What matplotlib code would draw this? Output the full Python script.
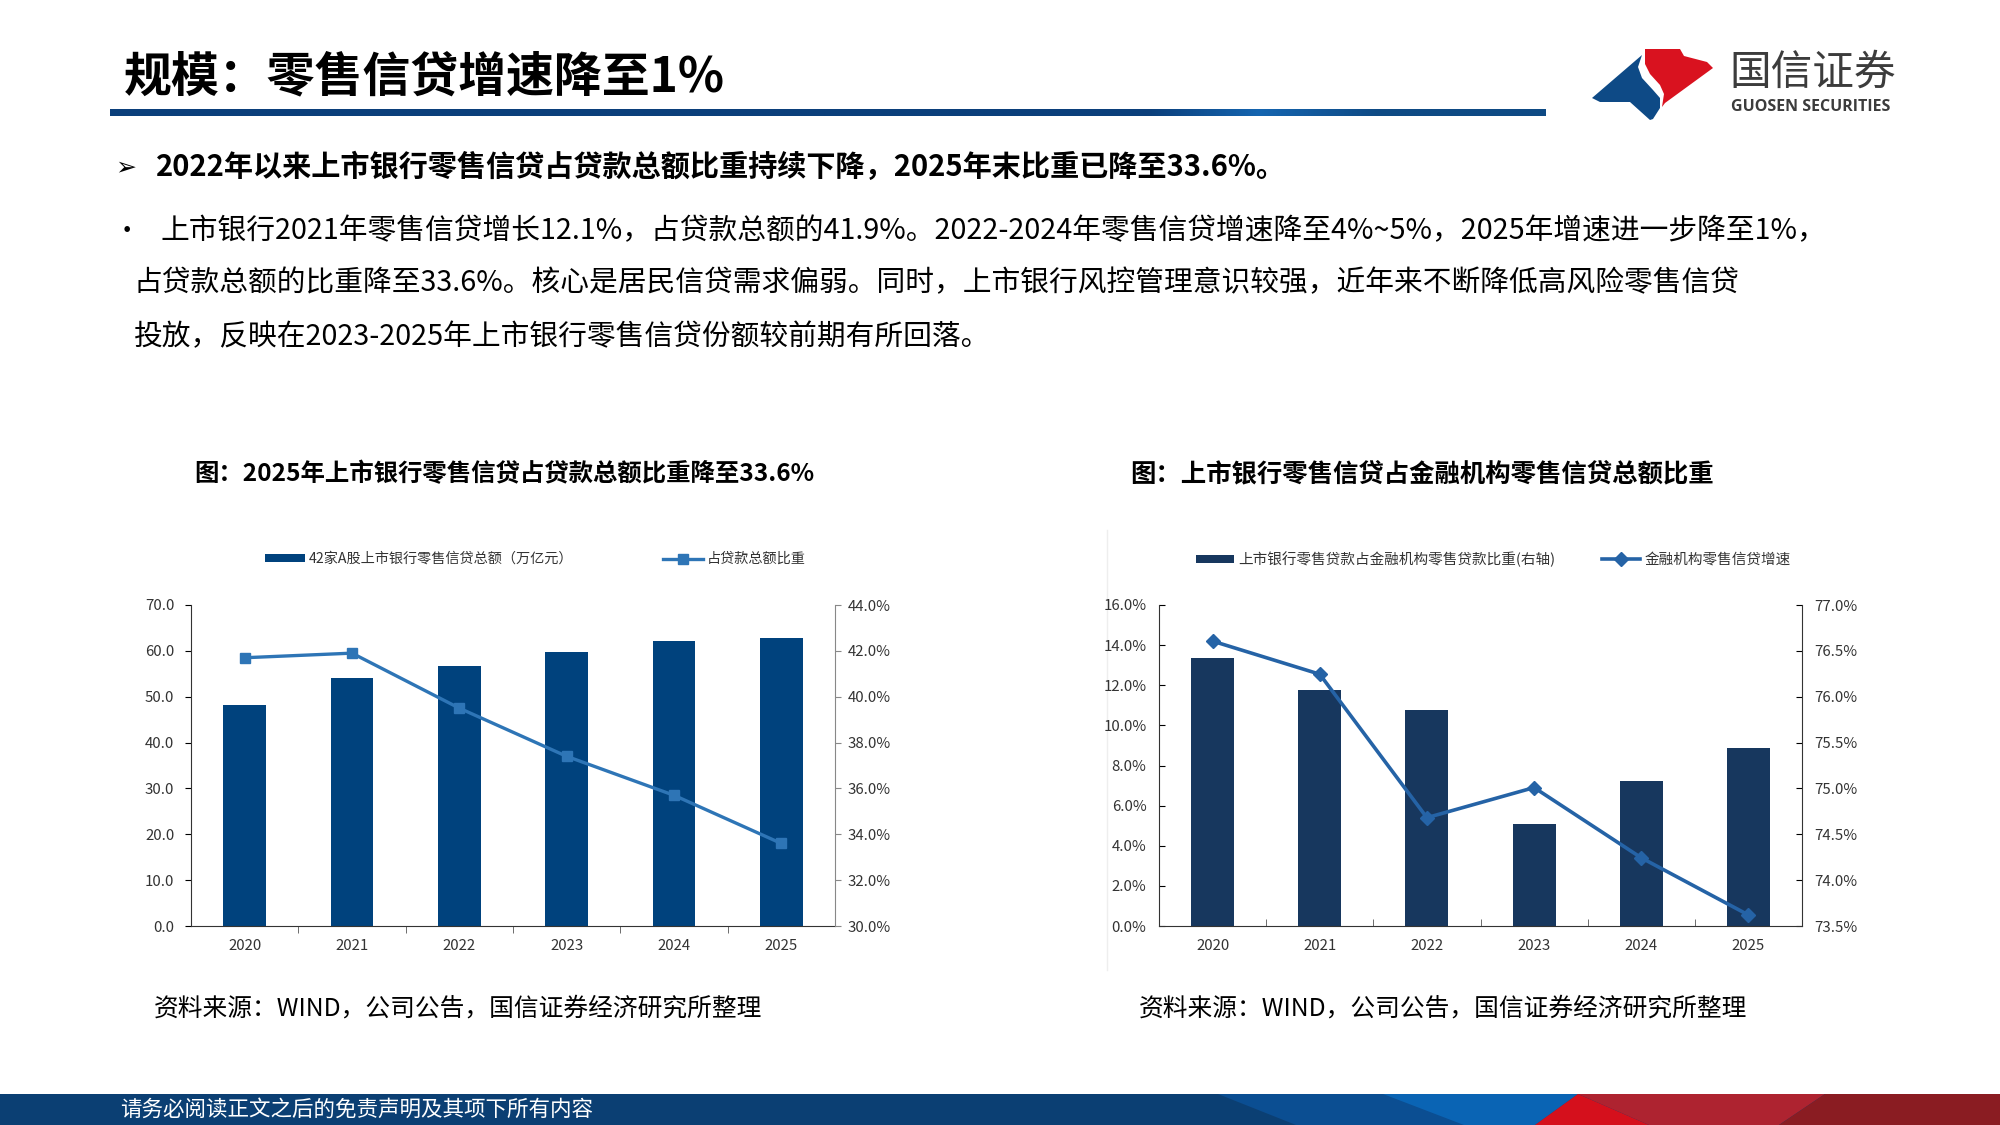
import numpy as np
import matplotlib
matplotlib.use("Agg")
import matplotlib.pyplot as plt
from matplotlib.patches import Polygon
from matplotlib.ticker import FuncFormatter, MultipleLocator

plt.rcParams['font.family'] = ['Noto Sans CJK SC', 'DejaVu Sans']

W, H = 2000, 1125

years = ['2020', '2021', '2022', '2023', '2024', '2025']

# left chart: listed banks retail loans (bars, 万亿元) and share of total loans (line, %)
retail_loans = [48.2, 54.1, 56.7, 59.8, 62.2, 62.9]
loan_share = [41.7, 41.9, 39.5, 37.4, 35.7, 33.6]

# right chart: listed banks share of FI retail loans (bars, right axis, %)
# and FI retail credit growth (line, left axis, %)
listed_share = [76.42, 76.07, 75.86, 74.61, 75.08, 75.44]
fi_growth = [14.2, 12.55, 5.4, 6.9, 3.4, 0.55]

page_title = '规模：零售信贷增速降至1%'
point_text = '2022年以来上市银行零售信贷占贷款总额比重持续下降，2025年末比重已降至33.6%。'
body_lines = [
    '上市银行2021年零售信贷增长12.1%，占贷款总额的41.9%。2022-2024年零售信贷增速降至4%~5%，2025年增速进一步降至1%，',
    '占贷款总额的比重降至33.6%。核心是居民信贷需求偏弱。同时，上市银行风控管理意识较强，近年来不断降低高风险零售信贷',
    '投放，反映在2023-2025年上市银行零售信贷份额较前期有所回落。',
]
chart1_title = '图：2025年上市银行零售信贷占贷款总额比重降至33.6%'
chart2_title = '图：上市银行零售信贷占金融机构零售信贷总额比重'
chart1_labels = ['42家A股上市银行零售信贷总额（万亿元）', '占贷款总额比重']
chart2_labels = ['上市银行零售贷款占金融机构零售贷款比重(右轴)', '金融机构零售信贷增速']
source_text = '资料来源：WIND，公司公告，国信证券经济研究所整理'
footer_text = '请务必阅读正文之后的免责声明及其项下所有内容'

fig = plt.figure(figsize=(20, 11.25), dpi=100)
fig.patch.set_facecolor('white')

# page overlay in pixel coordinates (y down)
page = fig.add_axes([0, 0, 1, 1])
page.axis('off')

# title underline with a soft gradient towards the right end
xs = np.linspace(110, 1546, 600)
stops = [110, 1150, 1260, 1380, 1546]
cols = np.array([[11, 63, 123], [11, 63, 123], [21, 101, 176], [14, 74, 132], [14, 74, 132]]) / 255
grad = np.stack([np.interp(xs, stops, cols[:, i]) for i in range(3)], axis=-1)[None, :, :]
page.imshow(grad, extent=[110, 1546, 116, 109], aspect='auto', interpolation='bilinear')

page.text(124, 77, page_title, fontsize=34.5, fontweight='bold', va='center', ha='left', color='black')

# logo
blue_shape = [(1592, 98), (1642, 55), (1638, 67), (1642, 78), (1653, 90), (1660, 98),
              (1660, 108), (1653, 119), (1650, 120), (1630, 102), (1600, 102)]
red_shape = [(1645, 49), (1680, 49), (1684, 56), (1707, 62), (1713, 68), (1665, 103),
             (1662, 107), (1664, 94), (1660, 85), (1650, 74), (1645, 64)]
page.add_patch(Polygon(blue_shape, closed=True, color='#0E4A86', lw=0))
page.add_patch(Polygon(red_shape, closed=True, color='#D9121F', lw=0))
page.text(1729, 73, '国信证券', fontsize=30, fontweight='medium', color='#3C3C3C', va='center', ha='left')
page.text(1731, 107, 'GUOSEN SECURITIES', fontsize=11.5, fontweight='bold', color='#3C3C3C',
          va='center', ha='left', family=['Open Sans', 'DejaVu Sans'])

# text block
page.text(115, 167, '➢', fontsize=18, fontweight='bold', va='center', ha='left',
          family=['DejaVu Sans'], color='black')
page.text(156, 167, point_text, fontsize=21, fontweight='bold', va='center', ha='left', color='black')
page.text(114, 231, '•', fontsize=19, va='center', ha='left', color='black')
line_x = [160, 134, 134]
line_y = [231, 283, 337]
for s, lx, ly in zip(body_lines, line_x, line_y):
    page.text(lx, ly, s, fontsize=20.7, va='center', ha='left', color='black')

page.text(194, 474, chart1_title, fontsize=17.6, fontweight='bold', va='center', ha='left', color='black')
page.text(1130, 474, chart2_title, fontsize=18.3, fontweight='bold', va='center', ha='left', color='black')
page.text(154, 1009, source_text, fontsize=17.8, va='center', ha='left', color='black')
page.text(1139, 1009, source_text, fontsize=17.8, va='center', ha='left', color='black')

# faint frame of the right picture
page.plot([1107, 1107], [530, 970], color='#EEEEEE', lw=1)

# footer band
page.add_patch(Polygon([(0, 1094), (2000, 1094), (2000, 1125), (0, 1125)], color='#0B3F73', lw=0))
page.add_patch(Polygon([(1218, 1094), (1578, 1094), (1535, 1125), (1296, 1125)], color='#0B4E92', lw=0))
page.add_patch(Polygon([(1383, 1094), (1578, 1094), (1535, 1125), (1464, 1125)], color='#0A64B4', lw=0))
page.add_patch(Polygon([(1578, 1094), (1825, 1094), (1779, 1125), (1649, 1125)], color='#AE2330', lw=0))
page.add_patch(Polygon([(1578, 1094), (1649, 1125), (1535, 1125)], color='#D5101C', lw=0))
page.add_patch(Polygon([(1825, 1094), (2000, 1094), (2000, 1125), (1779, 1125)], color='#8A1C22', lw=0))
page.text(120, 1110, footer_text, fontsize=15.5, color='white', va='center', ha='left')

page.set_xlim(0, W)
page.set_ylim(H, 0)

x = np.arange(len(years))
tick_font = 10.8
tick_color = '#333333'


def pct(v, p):
    return f'{v:.1f}%'


def category_axis(ax, direction):
    ax.set_xlim(-0.5, len(years) - 0.5)
    ax.set_xticks(x)
    ax.set_xticklabels(years)
    ax.set_xticks(x[:-1] + 0.5, minor=True)
    ax.tick_params(axis='x', which='major', length=0, pad=9, labelsize=tick_font, labelcolor=tick_color)
    ax.tick_params(axis='x', which='minor', length=5, direction=direction, color='#555555')


# ---- left chart ----
ax1 = fig.add_axes([191 / W, 1 - 926 / H, 644 / W, 321 / H])
bars1 = ax1.bar(x, retail_loans, width=0.4, color='#00427D', zorder=2)
ax1.set_ylim(0, 70)
ax1.yaxis.set_major_locator(MultipleLocator(10))
ax1.yaxis.set_major_formatter(FuncFormatter(lambda v, p: f'{v:.1f}'))
ax1.tick_params(axis='y', length=4, direction='out', pad=8, labelsize=tick_font, labelcolor=tick_color)
category_axis(ax1, 'out')

ax1r = ax1.twinx()
line1, = ax1r.plot(x, loan_share, color='#2E75B6', lw=2.4, marker='s', ms=7.5, zorder=3)
ax1r.set_ylim(30, 44)
ax1r.yaxis.set_major_locator(MultipleLocator(2))
ax1r.yaxis.set_major_formatter(FuncFormatter(pct))
ax1r.tick_params(axis='y', length=4, direction='out', pad=5, labelsize=tick_font, labelcolor=tick_color,
                 color='#888888')
for a in (ax1, ax1r):
    a.spines['top'].set_visible(False)
ax1.spines['right'].set_visible(False)
ax1r.spines['left'].set_visible(False)
ax1r.spines['bottom'].set_visible(False)
ax1.spines['left'].set_color('#333333')
ax1.spines['bottom'].set_color('#333333')
ax1r.spines['right'].set_color('#888888')

ax1.legend(handles=[bars1, line1], labels=chart1_labels, loc='center', bbox_to_anchor=(0.535, 1.143),
           ncol=2, frameon=False, fontsize=10.2, handlelength=2.8, handleheight=0.45,
           columnspacing=6.3, handletextpad=0.3, labelcolor='#333333')

# ---- right chart ----
ax2 = fig.add_axes([1159 / W, 1 - 926 / H, 643 / W, 321 / H])
ax2r = ax2.twinx()
bars2 = ax2r.bar(x, listed_share, width=0.4, color='#17375E', zorder=2)
ax2r.set_ylim(73.5, 77)
ax2r.yaxis.set_major_locator(MultipleLocator(0.5))
ax2r.yaxis.set_major_formatter(FuncFormatter(pct))
ax2r.tick_params(axis='y', length=4, direction='in', pad=9, labelsize=tick_font, labelcolor=tick_color)

line2, = ax2.plot(x, fi_growth, color='#2563A6', lw=2.6, marker='D', ms=7, zorder=3)
ax2.set_ylim(0, 16)
ax2.yaxis.set_major_locator(MultipleLocator(2))
ax2.yaxis.set_major_formatter(FuncFormatter(pct))
ax2.tick_params(axis='y', length=4, direction='in', pad=9, labelsize=tick_font, labelcolor=tick_color)
category_axis(ax2, 'in')
ax2.set_zorder(ax2r.get_zorder() + 1)
ax2.patch.set_visible(False)

for a in (ax2, ax2r):
    a.spines['top'].set_visible(False)
    for side in ('left', 'right', 'bottom'):
        a.spines[side].set_color('#333333')
ax2.spines['right'].set_visible(False)
ax2r.spines['left'].set_visible(False)
ax2r.spines['bottom'].set_visible(False)

ax2.legend(handles=[bars2, line2], labels=chart2_labels, loc='center', bbox_to_anchor=(0.52, 1.143),
           ncol=2, frameon=False, fontsize=10.5, handlelength=2.6, handleheight=0.45,
           columnspacing=3.2, handletextpad=0.3, labelcolor='#333333')

fig.savefig('out.png', dpi=100, facecolor='white')
